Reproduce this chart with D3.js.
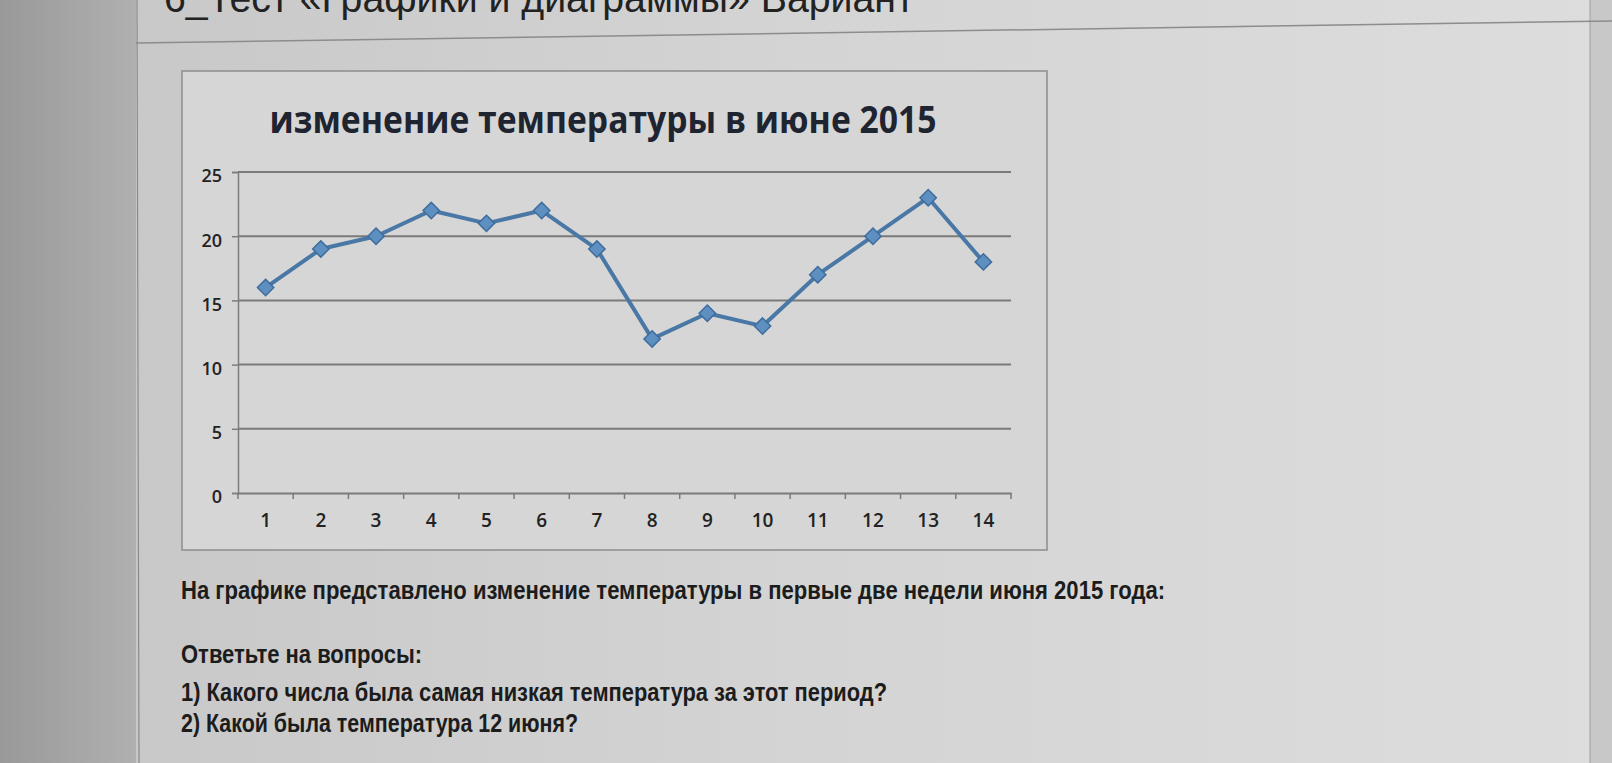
<!DOCTYPE html>
<html>
<head>
<meta charset="utf-8">
<script src="https://cdn.jsdelivr.net/npm/d3@7"></script>
<style>
  html, body { margin: 0; padding: 0; overflow: hidden; }
  body { width: 1612px; height: 763px; }
</style>
</head>
<body>
<svg id="chart" width="1612" height="763"></svg>
<script>
// ---- data ----
const days = ["1","2","3","4","5","6","7","8","9","10","11","12","13","14"];
const temps = [16, 19, 20, 22, 21, 22, 19, 12, 14, 13, 17, 20, 23, 18];
const yTicks = [0, 5, 10, 15, 20, 25];
const chartTitle = "изменение температуры в июне 2015";
const pageHeading = "6_Тест «Графики и диаграммы» Вариант";
const textLines = [
  "На графике представлено изменение температуры в первые две недели июня 2015 года:",
  "Ответьте на вопросы:",
  "1) Какого числа была самая низкая температура за этот период?",
  "2) Какой была температура 12 июня?"
];

const svg = d3.select("#chart");
const W = 1612, H = 763;

// ---- background (photo of a screen) ----
const defs = svg.append("defs");
const bg = defs.append("linearGradient").attr("id", "bg").attr("x1", "0").attr("x2", "1").attr("y1", "0").attr("y2", "0");
bg.append("stop").attr("offset", "0").attr("stop-color", "#c6c6c6");
bg.append("stop").attr("offset", "0.5").attr("stop-color", "#d4d4d4");
bg.append("stop").attr("offset", "1").attr("stop-color", "#dddddd");
const lg = defs.append("linearGradient").attr("id", "leftbg").attr("x1", "0").attr("x2", "1");
lg.append("stop").attr("offset", "0").attr("stop-color", "#999999");
lg.append("stop").attr("offset", "1").attr("stop-color", "#b0b0b0");

svg.append("rect").attr("width", W).attr("height", H).attr("fill", "url(#bg)");
svg.append("rect").attr("width", 136).attr("height", H).attr("fill", "url(#leftbg)");
svg.append("line").attr("x1", 137).attr("x2", 139).attr("y1", 0).attr("y2", H)
  .attr("stroke", "#8a8a8a").attr("stroke-width", 1.2);
svg.append("rect").attr("x", 1590).attr("width", 22).attr("height", H).attr("fill", "#c8c8c8");
svg.append("line").attr("x1", 1590).attr("x2", 1590).attr("y1", 0).attr("y2", H)
  .attr("stroke", "#a0a0a0").attr("stroke-width", 1);
// separator line under heading
svg.append("line").attr("x1", 136).attr("y1", 43).attr("x2", 1612).attr("y2", 21)
  .attr("stroke", "#8c8c8c").attr("stroke-width", 1.5);

// page heading (cut off at the top, as in the photo)
svg.append("text").attr("x", 164).attr("y", 12)
  .attr("font-family", "Liberation Sans, Arial, sans-serif").attr("font-size", 40)
  .attr("fill", "#222").attr("textLength", 750).attr("lengthAdjust", "spacingAndGlyphs")
  .text(pageHeading);

// ---- chart box ----
const box = {x: 182, y: 71, w: 865, h: 479};
svg.append("rect").attr("x", box.x).attr("y", box.y).attr("width", box.w).attr("height", box.h)
  .attr("fill", "#d6d6d6").attr("stroke", "#8d8d8d").attr("stroke-width", 1.5);

svg.append("text").attr("x", 603).attr("y", 133).attr("text-anchor", "middle")
  .attr("font-family", "Open Sans, Noto Sans, sans-serif").attr("font-weight", 700)
  .attr("font-size", 38).attr("fill", "#1e2430")
  .attr("textLength", 667).attr("lengthAdjust", "spacingAndGlyphs")
  .text(chartTitle);

// ---- scales ----
const plot = {left: 238, right: 1011, top: 172, bottom: 493};
const x = d3.scaleBand().domain(days).range([plot.left, plot.right]).paddingInner(0).paddingOuter(0);
const y = d3.scaleLinear().domain([0, 25]).range([plot.bottom, plot.top]);

const g = svg.append("g");

// gridlines
g.append("g").selectAll("line").data(yTicks.filter(d => d > 0)).join("line")
  .attr("x1", plot.left).attr("x2", plot.right)
  .attr("y1", d => y(d)).attr("y2", d => y(d))
  .attr("stroke", "#7a7a7a").attr("stroke-width", 2);

// y axis
const yAxis = g.append("g").attr("transform", `translate(${plot.left},0)`)
  .call(d3.axisLeft(y).tickValues(yTicks).tickSize(6).tickPadding(10));
yAxis.select(".domain").attr("stroke", "#7d7d7d").attr("stroke-width", 1.5);
yAxis.selectAll(".tick line").attr("stroke", "#7d7d7d").attr("stroke-width", 1.5);
yAxis.selectAll(".tick text").attr("font-family", "Open Sans, sans-serif")
  .attr("font-size", 18).attr("font-weight", 600).attr("fill", "#222").attr("dy", "0.55em");

// x axis
const xAxis = g.append("g").attr("transform", `translate(0,${plot.bottom})`)
  .call(d3.axisBottom(x).tickSize(0).tickPadding(21));
xAxis.select(".domain").attr("stroke", "#7a7a7a").attr("stroke-width", 2);
xAxis.selectAll(".tick text").attr("font-family", "Open Sans, sans-serif")
  .attr("font-size", 19).attr("font-weight", 600).attr("fill", "#222");
// category boundary ticks
xAxis.append("g").selectAll("line").data(days.concat(["end"])).join("line")
  .attr("x1", (d, i) => i < days.length ? x(d) : x(days[days.length - 1]) + x.bandwidth())
  .attr("x2", (d, i) => i < days.length ? x(d) : x(days[days.length - 1]) + x.bandwidth())
  .attr("y1", 0).attr("y2", 6)
  .attr("stroke", "#7a7a7a").attr("stroke-width", 1.5);

// line
const cx = d => x(d) + x.bandwidth() / 2;
const line = d3.line().x((d, i) => cx(days[i])).y(d => y(d));
g.append("path").datum(temps).attr("d", line)
  .attr("fill", "none").attr("stroke", "#4a78a6").attr("stroke-width", 4)
  .attr("stroke-linejoin", "round");

// markers (diamonds)
const diamond = d3.symbol().type(d3.symbolDiamond2).size(170);
g.append("g").selectAll("path").data(temps).join("path")
  .attr("d", diamond)
  .attr("transform", (d, i) => `translate(${cx(days[i])},${y(d)})`)
  .attr("fill", "#5d8fc0").attr("stroke", "#3f6d9d").attr("stroke-width", 1.5);

// ---- text below the chart ----
const textSpecs = [
  {y: 599, w: 984},
  {y: 663, w: 241},
  {y: 701, w: 706},
  {y: 732, w: 397}
];
svg.append("g").selectAll("text").data(textLines).join("text")
  .attr("x", 181).attr("y", (d, i) => textSpecs[i].y)
  .attr("font-family", "Liberation Sans, Arial, sans-serif").attr("font-weight", 700)
  .attr("font-size", 25).attr("fill", "#1c1c1c")
  .attr("textLength", (d, i) => textSpecs[i].w).attr("lengthAdjust", "spacingAndGlyphs")
  .text(d => d);
</script>
</body>
</html>
